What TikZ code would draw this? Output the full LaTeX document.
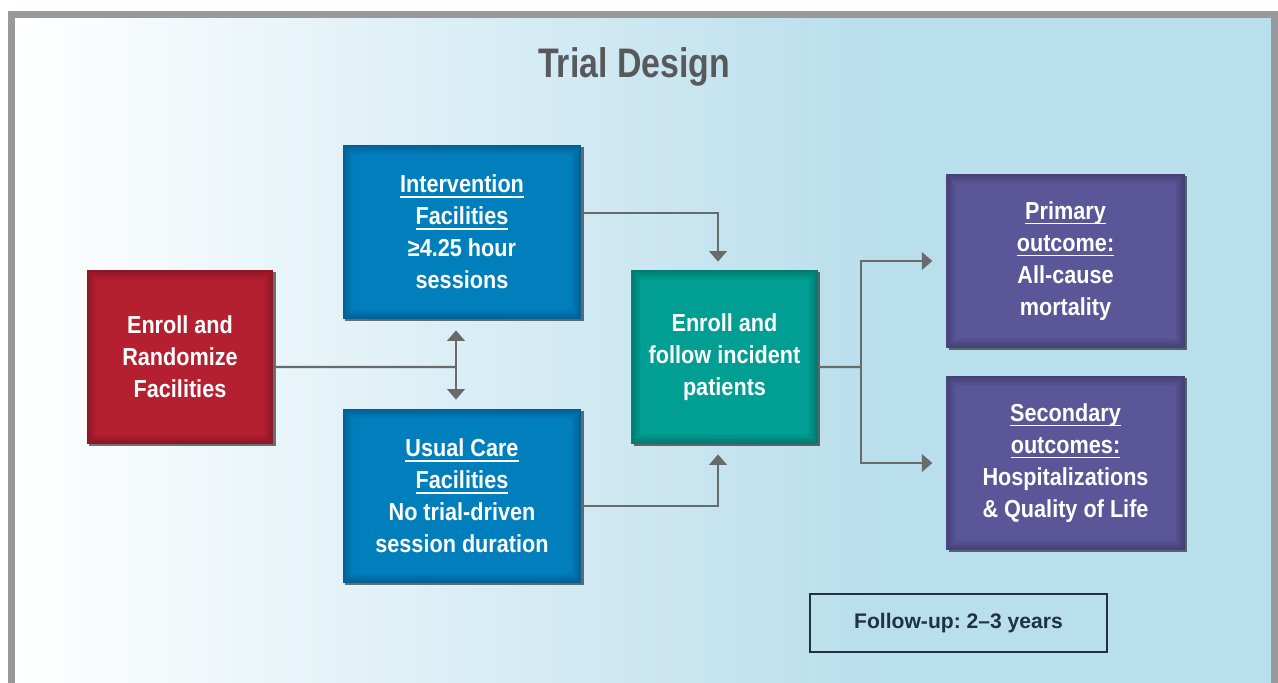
\documentclass[tikz,border=0pt]{standalone}
\usepackage{fontspec}
\setmainfont{Liberation Sans}
\newfontfamily\boxfont[FakeStretch=0.88]{Liberation Sans}
\newfontfamily\titlefont[FakeStretch=0.82]{Liberation Sans}
\usepackage{tikz}
\usetikzlibrary{arrows.meta}
\usetikzlibrary{shadows}
\usepackage{xcolor}

\definecolor{bgblue}{RGB}{185,222,236}
\definecolor{bgmid}{RGB}{231,238,244}
\definecolor{framegray}{RGB}{152,153,157}
\definecolor{linkgray}{RGB}{105,106,108}
\definecolor{boxred}{RGB}{183,32,50}
\definecolor{boxreddk}{RGB}{140,22,36}
\definecolor{boxblue}{RGB}{0,128,190}
\definecolor{boxbluedk}{RGB}{0,96,150}
\definecolor{boxteal}{RGB}{0,160,148}
\definecolor{boxtealdk}{RGB}{0,122,112}
\definecolor{boxpurple}{RGB}{92,87,152}
\definecolor{boxpurpledk}{RGB}{68,63,118}
\definecolor{titlegray}{RGB}{88,89,91}
\definecolor{fupnavy}{RGB}{30,50,66}

\newcommand\ulhead[1]{\setbox0\hbox{#1}\rlap{\rule[-2.8pt]{\wd0}{1pt}}\box0}

\tikzset{
  box/.style={fill=#1, minimum height=3.48cm, inner sep=0pt, align=center, text=white,
    font=\boxfont\bfseries\fontsize{14}{18.2}\selectfont,
    drop shadow={shadow xshift=1.4pt, shadow yshift=-1.4pt, opacity=0.55, fill=black},
    path picture={
      \foreach \k in {0,...,8}
        \fill[#1dk!\the\numexpr 100-\k*12\relax!#1]
          ([shift={(\k*0.7pt,-\k*0.7pt)}]path picture bounding box.north west) rectangle
          ([shift={(-\k*0.7pt,\k*0.7pt)}]path picture bounding box.south east);
    }},
  narrow/.style={minimum width=3.73cm},
  wide/.style={minimum width=4.77cm},
  link/.style={draw=linkgray, line width=1.3pt},
  tip/.style={-{Triangle[width=10pt,length=6pt]}},
}

\begin{document}
\begin{tikzpicture}

\useasboundingbox (0,0) rectangle (25.56,13.66);
\fill[white] (0,0) rectangle (25.56,13.66);
\shade[left color=white, middle color=bgmid, right color=bgblue] (0.23,-0.3) rectangle (17.6,13.37);
\fill[bgblue] (17.6,-0.3) rectangle (25.5,13.37);
\draw[framegray, line width=0.13cm] (0.23,-0.3) -- (0.23,13.37) -- (25.49,13.37) -- (25.49,-0.3);

\node[font=\titlefont\bfseries\fontsize{23.5}{28}\selectfont, text=titlegray] (ttl) at (12.68,12.33) {Trial Design};

\node[box=boxred, narrow] (rand) at (3.60,6.52) {Enroll and\\Randomize\\Facilities};
\node[box=boxblue, wide] (ivn) at (9.24,9.02) {\ulhead{Intervention}\\\ulhead{Facilities}\\≥4.25 hour\\sessions};
\node[box=boxblue, wide] (usual) at (9.24,3.74) {\ulhead{Usual Care}\\\ulhead{Facilities}\\No trial-driven\\session duration};
\node[box=boxteal, narrow] (enr) at (14.49,6.52) {Enroll and\\follow incident\\patients};
\node[box=boxpurple, wide] (prim) at (21.31,8.44) {\ulhead{Primary}\\\ulhead{outcome:}\\All-cause\\mortality};
\node[box=boxpurple, wide] (sec) at (21.31,4.40) {\ulhead{Secondary}\\\ulhead{outcomes:}\\Hospitalizations\\\& Quality of Life};

\node[draw=fupnavy, line width=1.3pt, minimum width=5.94cm, minimum height=1.16cm, text=fupnavy, font=\frenchspacing\bfseries\fontsize{12}{14}\selectfont] (fup) at (19.17,1.20) {Follow-up: 2--3 years};

\coordinate (split) at (9.12,6.32);
\draw[link] ([yshift=-0.2cm]rand.east) -- (split);
\draw[link, {Triangle[width=10pt,length=6pt]}-{Triangle[width=10pt,length=6pt]}, shorten <=0.22cm, shorten >=0.18cm] (split |- ivn.south) -- (split |- usual.north);

\coordinate (merge) at (14.36,6.52);
\draw[link, tip, shorten >=0.16cm] ([yshift=0.38cm]ivn.east) -| (merge |- enr.north);
\draw[link, tip, shorten >=0.2cm] ([yshift=-0.2cm]usual.east) -| (merge |- enr.south);

\coordinate (fork) at (17.22,6.32);
\draw[link] ([yshift=-0.2cm]enr.east) -- (fork);
\draw[link, tip, shorten >=0.27cm] (fork) |- (prim.west);
\draw[link, tip, shorten >=0.27cm] (fork) |- (sec.west);

\end{tikzpicture}
\end{document}
